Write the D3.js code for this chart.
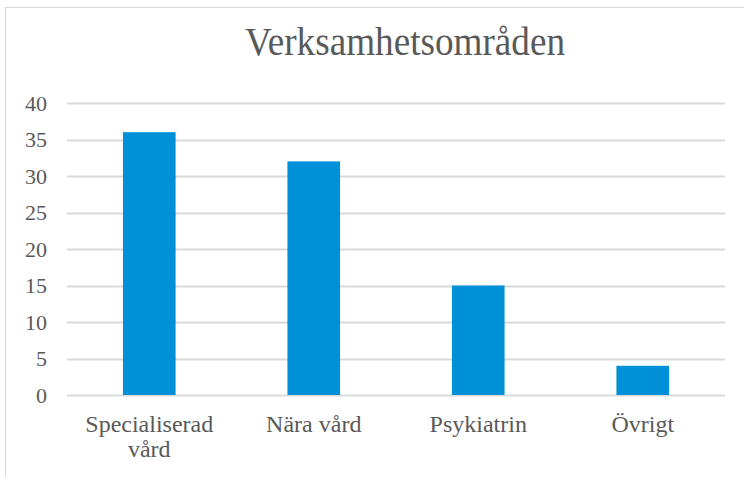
<!DOCTYPE html>
<html>
<head>
<meta charset="utf-8">
<script src="https://cdn.jsdelivr.net/npm/d3@7"></script>
<style>
  body { margin: 0; background: #fff; }
  svg { display: block; }
</style>
</head>
<body>
<svg width="744" height="477"></svg>
<script>
// data
var categories = ["Specialiserad vård", "Nära vård", "Psykiatrin", "Övrigt"];
var catLines = [["Specialiserad", "vård"], ["Nära vård"], ["Psykiatrin"], ["Övrigt"]];
var values = [36, 32, 15, 4];
var yTicks = [0, 5, 10, 15, 20, 25, 30, 35, 40];
var title = "Verksamhetsområden";

var svg = d3.select("svg"),
    width = +svg.attr("width"),
    height = +svg.attr("height");

var font = "'Liberation Serif', 'Times New Roman', serif";
var textColour = "#595959";

// chart frame
svg.append("rect")
    .attr("x", 5.5)
    .attr("y", 7.5)
    .attr("width", 760)
    .attr("height", 500)
    .attr("fill", "white")
    .attr("stroke", "#d9d9d9")
    .attr("stroke-width", 1);

var margin = { left: 67, right: 19, top: 103, bottom: 82 };

var x = d3.scaleBand()
    .domain(categories)
    .range([margin.left, width - margin.right])
    .paddingInner(0.68)
    .paddingOuter(0.34);

var y = d3.scaleLinear()
    .domain([0, 40])
    .range([height - margin.bottom, margin.top]);

// gridlines
svg.append("g")
    .attr("class", "grid")
    .selectAll("line")
    .data(yTicks)
    .enter().append("line")
    .attr("x1", margin.left)
    .attr("x2", width - margin.right)
    .attr("y1", function (d) { return Math.round(y(d)) + 0.5; })
    .attr("y2", function (d) { return Math.round(y(d)) + 0.5; })
    .attr("stroke", "#d9d9d9")
    .attr("stroke-width", 2);

// y tick labels
var yAxis = svg.append("g")
    .attr("transform", "translate(" + (margin.left - 20) + ",0)")
    .call(d3.axisLeft(y).tickValues(yTicks).tickSize(0).tickPadding(0));
yAxis.select(".domain").remove();
yAxis.selectAll("text")
    .style("font-family", font)
    .style("font-size", "22px")
    .attr("fill", textColour);

// bars
svg.append("g")
    .selectAll("rect")
    .data(values)
    .enter().append("rect")
    .attr("x", function (d, i) { return x(categories[i]); })
    .attr("y", function (d) { return y(d); })
    .attr("width", x.bandwidth())
    .attr("height", function (d) { return y(0) - y(d); })
    .attr("fill", "#0090d7");

// x labels
var xl = svg.append("g")
    .selectAll("text")
    .data(categories)
    .enter().append("text")
    .attr("transform", function (d) {
        return "translate(" + (x(d) + x.bandwidth() / 2) + "," + (y(0) + 37) + ")";
    })
    .attr("text-anchor", "middle")
    .style("font-family", font)
    .style("font-size", "24px")
    .attr("fill", textColour);

xl.each(function (d, i) {
    var t = d3.select(this);
    catLines[i].forEach(function (line, j) {
        t.append("tspan")
            .attr("x", 0)
            .attr("dy", j == 0 ? 0 : 25)
            .text(line);
    });
});

// title, a little condensed like the reference
svg.append("text")
    .attr("transform", "translate(405,54.5) scale(0.93,1)")
    .attr("text-anchor", "middle")
    .style("font-family", font)
    .style("font-size", "40px")
    .attr("fill", textColour)
    .text(title);
</script>
</body>
</html>
